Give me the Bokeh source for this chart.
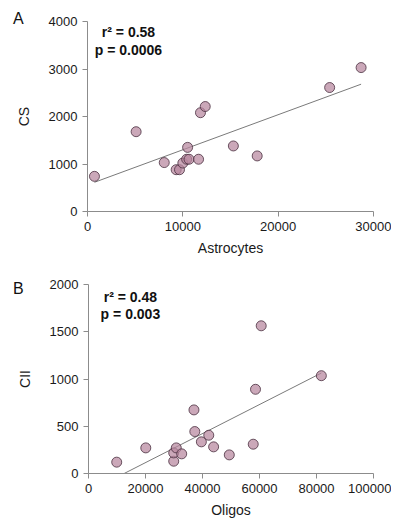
from bokeh.plotting import figure
from bokeh.layouts import column, row
from bokeh.models import Range1d, FixedTicker, Label, BasicTickFormatter, Div
from bokeh.embed import file_html
from bokeh.resources import INLINE

# Panel A data
astro = [730, 5100, 8050, 9300, 9650, 10000, 10400, 10650, 10500, 11650, 11850, 12350, 15300, 17800, 25400, 28700]
cs = [740, 1680, 1030, 880, 880, 1020, 1100, 1100, 1350, 1100, 2080, 2210, 1380, 1170, 2610, 3030]
fit_a_x = [730, 28700]
fit_a_y = [615, 2680]
ticks_a_x = [0, 10000, 20000, 30000]
ticks_a_y = [0, 1000, 2000, 3000, 4000]
stats_a = ["r² = 0.58", "p = 0.0006"]

# Panel B data
oligos = [9900, 20100, 29900, 29900, 30800, 32700, 37000, 37300, 39600, 42200, 43900, 49400, 57800, 58600, 60600, 81700]
cii = [120, 271, 130, 218, 271, 208, 673, 444, 335, 405, 282, 197, 310, 891, 1563, 1035]
fit_b_x = [12500, 81700]
fit_b_y = [0, 1063]
ticks_b_x = [0, 20000, 40000, 60000, 80000, 100000]
ticks_b_y = [0, 500, 1000, 1500, 2000]
stats_b = ["r² = 0.48", "p = 0.003"]

FONT = "Liberation Sans"
AXIS_COL = "#8c8c8c"
FILL = "#b7869e"
EDGE = "#4a3040"
LETTER_W = 10


def make_panel(xs, ys, fx, fy, xr, yr, xt, yt, xlabel, ylabel, stats,
               stat_x, stat_y, height, left, top, bottom):
    p = figure(width=391 - LETTER_W, height=height, output_backend="svg", toolbar_location=None,
               x_range=Range1d(*xr), y_range=Range1d(*yr),
               min_border_left=left - LETTER_W, min_border_right=18,
               min_border_top=top, min_border_bottom=bottom)
    p.outline_line_color = None
    p.border_fill_alpha = 0
    p.xgrid.visible = False
    p.ygrid.visible = False
    for ax in (p.xaxis, p.yaxis):
        ax.axis_line_color = AXIS_COL
        ax.major_tick_line_color = AXIS_COL
        ax.minor_tick_line_color = None
        ax.major_tick_in = 0
        ax.major_tick_out = 5
        ax.major_label_text_font = FONT
        ax.major_label_text_font_size = "13px"
        ax.major_label_text_color = "#1a1a1a"
        ax.axis_label_text_font = FONT
        ax.axis_label_text_font_size = "14px"
        ax.axis_label_text_font_style = "normal"
        ax.axis_label_text_color = "#1a1a1a"
        ax.formatter = BasicTickFormatter(use_scientific=False)
    p.xaxis.ticker = FixedTicker(ticks=xt)
    p.yaxis.ticker = FixedTicker(ticks=yt)
    p.xaxis.axis_label = xlabel
    p.yaxis.axis_label = ylabel
    p.xaxis.major_label_standoff = 5
    p.yaxis.major_label_standoff = 5
    p.xaxis.axis_label_standoff = 6
    p.yaxis.axis_label_standoff = 14

    p.line(fx, fy, line_color="#7a7a7a", line_width=1)
    p.scatter(xs, ys, size=10, fill_color=FILL, fill_alpha=0.72,
              line_color=EDGE, line_alpha=0.8, line_width=1)

    for i, s in enumerate(stats):
        p.add_layout(Label(x=stat_x, y=stat_y[i], text=s, text_align="center",
                           text_baseline="alphabetic", text_font=FONT,
                           text_font_size="14px", text_font_style="bold",
                           text_color="#111111"))
    return p


def letter_div(letter, height, pad_top):
    html = (f'<div style="padding-top:{pad_top}px;padding-left:13px;white-space:nowrap;'
            f'overflow:visible;font-family:\'{FONT}\';font-size:16px;line-height:16px;'
            f'color:#111111;">{letter}</div>')
    return Div(text=html, width=LETTER_W, height=height, margin=0,
               styles={"overflow": "visible"})


pA = make_panel(astro, cs, fit_a_x, fit_a_y, (0, 30000), (0, 4000), ticks_a_x, ticks_a_y,
                "Astrocytes", "CS", stats_a, 4300, [3770, 3393], 258, 87, 21, 46)
pB = make_panel(oligos, cii, fit_b_x, fit_b_y, (0, 100000), (0, 2000), ticks_b_x, ticks_b_y,
                "Oligos", "CII", stats_b, 14700, [1873, 1693], 264, 88, 26, 49)

rowA = row(letter_div("A", 258, 11), pA, spacing=0)
rowB = row(letter_div("B", 264, 23), pB, spacing=0)
layout = column(rowA, rowB, spacing=0)
open("out.html", "w").write(file_html(layout, INLINE))
